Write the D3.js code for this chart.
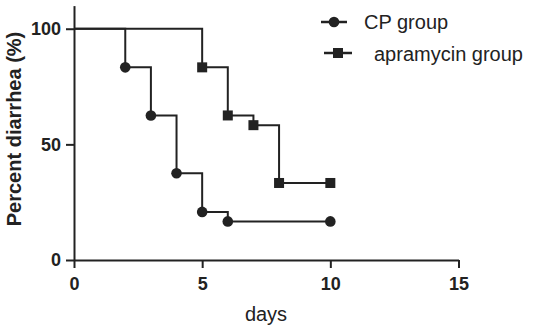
<!DOCTYPE html>
<html>
<head>
<meta charset="utf-8">
<script src="https://cdn.jsdelivr.net/npm/d3@7"></script>
<style>
  body { margin: 0; background: #fff; }
  svg { display: block; font-family: "Liberation Sans", Arial, sans-serif; }
</style>
</head>
<body>
<svg id="chart" width="536" height="328"></svg>
<script>
// days and percent with diarrhea
const cpDays = [0, 2, 3, 4, 5, 6, 10];
const cpPercent = [100, 83.3, 62.5, 37.5, 20.8, 16.7, 16.7];
const apraDays = [0, 5, 6, 7, 8, 10];
const apraPercent = [100, 83.3, 62.5, 58.3, 33.3, 33.3];
const xTicks = [0, 5, 10, 15];
const yTicks = [0, 50, 100];

const ink = "#222";
const svg = d3.select("#chart");

var x = d3.scaleLinear().domain([0, 15]).range([74, 458.5]);
var y = d3.scaleLinear().domain([0, 110]).range([260, 5.6]);

var xAxis = d3.axisBottom(x).tickValues(xTicks).tickSize(8).tickPadding(9);
var yAxis = d3.axisLeft(y).tickValues(yTicks).tickSize(8).tickPadding(5);

function styleAxis(g) {
    g.select(".domain").attr("stroke", ink).attr("stroke-width", 2);
    g.selectAll(".tick line").attr("stroke", ink).attr("stroke-width", 2);
    g.selectAll(".tick text")
        .attr("fill", ink)
        .style("font-size", "18px")
        .style("font-weight", "bold");
}

svg.append("g")
    .attr("transform", "translate(0," + 260 + ")")
    .call(xAxis.tickSizeOuter(0))
    .call(styleAxis);

svg.append("g")
    .attr("transform", "translate(" + 74 + ",0)")
    .call(yAxis.tickSizeOuter(0))
    .call(styleAxis);

// step lines
var step = d3.line()
    .x(d => x(d[0]))
    .y(d => y(d[1]))
    .curve(d3.curveStepAfter);

function series(days, pct, shape) {
    var pts = days.map((d, i) => [d, pct[i]]);
    svg.append("path")
        .attr("fill", "none")
        .attr("stroke", ink)
        .attr("stroke-width", 2)
        .attr("d", step(pts));
    var marks = pts.slice(1);
    if (shape === "circle") {
        svg.append("g").selectAll("circle")
            .data(marks).enter().append("circle")
            .attr("r", 5.3)
            .attr("fill", ink)
            .attr("cx", d => x(d[0]))
            .attr("cy", d => y(d[1]));
    } else {
        svg.append("g").selectAll("rect")
            .data(marks).enter().append("rect")
            .attr("width", 10).attr("height", 10)
            .attr("fill", ink)
            .attr("x", d => x(d[0]) - 5)
            .attr("y", d => y(d[1]) - 5);
    }
}

series(cpDays, cpPercent, "circle");
series(apraDays, apraPercent, "square");

// legend
var leg = svg.append("g");
leg.append("line").attr("x1", 321).attr("x2", 347).attr("y1", 22).attr("y2", 22)
    .attr("stroke", ink).attr("stroke-width", 2.5);
leg.append("circle").attr("cx", 334).attr("cy", 22).attr("r", 5.3).attr("fill", ink);
leg.append("text").attr("x", 364).attr("y", 29).attr("fill", ink)
    .style("font-size", "20px").text("CP group");

leg.append("line").attr("x1", 324).attr("x2", 352).attr("y1", 53).attr("y2", 53)
    .attr("stroke", ink).attr("stroke-width", 2.5);
leg.append("rect").attr("x", 333).attr("y", 48).attr("width", 10).attr("height", 10).attr("fill", ink);
leg.append("text").attr("x", 374).attr("y", 61).attr("fill", ink)
    .style("font-size", "20px").text("apramycin group");

// axis titles
svg.append("text")
    .attr("x", 266).attr("y", 321)
    .attr("text-anchor", "middle")
    .attr("fill", ink)
    .style("font-size", "20px")
    .text("days");

svg.append("text")
    .attr("transform", "translate(21,129) rotate(-90)")
    .attr("text-anchor", "middle")
    .attr("fill", ink)
    .style("font-size", "20px")
    .style("font-weight", "bold")
    .text("Percent diarrhea (%)");
</script>
</body>
</html>
